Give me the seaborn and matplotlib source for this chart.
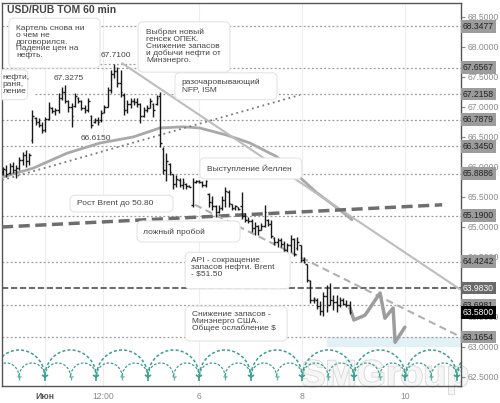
import numpy as np
import pandas as pd
import matplotlib
matplotlib.use('Agg')
import matplotlib.pyplot as plt
import matplotlib.transforms as mtransforms
import matplotlib.patheffects as pe
from matplotlib.patches import FancyBboxPatch, Rectangle
import seaborn as sns

# hourly bars USD/RUB TOM
opens = [65.92, 65.95, 65.90, 66.02, 65.95, 65.98, 66.12, 66.20, 66.10, 66.45,
         66.82, 66.75, 66.70, 66.62, 66.80, 66.98, 66.93, 66.95, 67.15, 67.25,
         67.10, 67.00, 67.02, 67.15, 67.10, 66.98, 66.95, 66.85, 66.75, 66.78,
         66.78, 66.92, 67.00, 67.28, 67.55, 67.60, 67.40, 67.20, 66.95, 67.05,
         67.10, 67.08, 67.05, 66.85, 66.95, 66.98, 67.05, 67.05, 67.18, 66.30,
         65.95, 66.05, 65.88, 65.72, 65.78, 65.70, 65.72, 65.68, 65.36, 65.75,
         65.76, 65.75, 65.70, 65.55, 65.42, 65.35, 65.25, 65.32, 65.45, 65.58,
         65.38, 65.32, 65.34, 65.35, 65.18, 65.12, 65.10, 64.98, 65.02, 64.95,
         65.02, 65.12, 65.05, 64.82, 64.75, 64.78, 64.72, 64.62, 64.70, 64.80,
         64.65, 64.70, 64.45, 64.38, 64.10, 63.78, 63.78, 63.68, 63.60, 63.85,
         63.70, 63.78, 63.75, 63.70, 63.78, 63.72, 63.70]
highs = [66.00, 66.03, 66.07, 66.08, 66.03, 66.17, 66.25, 66.28, 66.23, 66.95,
         66.83, 66.82, 66.75, 66.83, 67.08, 67.00, 66.98, 67.23, 67.33, 67.37,
         67.12, 67.07, 67.23, 67.17, 67.12, 67.03, 67.15, 66.87, 66.82, 66.83,
         66.95, 67.03, 67.33, 67.62, 67.71, 67.67, 67.62, 67.23, 67.12, 67.15,
         67.15, 67.15, 67.07, 67.00, 67.03, 67.15, 67.07, 67.20, 67.25, 66.34,
         66.23, 66.06, 65.89, 65.87, 65.81, 65.81, 65.73, 65.70, 65.81, 65.78,
         65.78, 65.76, 65.78, 65.56, 65.51, 65.37, 65.37, 65.51, 65.67, 65.62,
         65.39, 65.37, 65.34, 65.59, 65.23, 65.17, 65.14, 65.09, 65.03, 65.06,
         65.37, 65.14, 65.12, 64.84, 64.81, 64.81, 64.76, 64.73, 64.87, 64.81,
         64.84, 64.70, 64.50, 64.39, 64.12, 63.84, 63.81, 63.76, 63.92, 64.03,
         64.06, 63.87, 63.87, 63.84, 63.81, 63.78, 63.76]
lows = [65.87, 65.83, 65.88, 65.90, 65.82, 65.95, 66.03, 66.00, 66.03, 66.40,
        66.70, 66.67, 66.57, 66.58, 66.78, 66.90, 66.87, 66.90, 67.12, 67.07,
        66.92, 66.67, 67.00, 67.07, 66.95, 66.90, 66.92, 66.65, 66.73, 66.70,
        66.75, 66.90, 67.00, 67.23, 67.48, 67.33, 67.17, 66.87, 66.90, 66.98,
        67.03, 67.00, 66.73, 66.83, 66.92, 66.98, 66.83, 67.03, 66.34, 65.89,
        65.76, 65.87, 65.64, 65.67, 65.67, 65.64, 65.64, 65.66, 65.34, 65.73,
        65.73, 65.67, 65.67, 65.34, 65.28, 65.17, 65.23, 65.28, 65.34, 65.34,
        65.28, 65.28, 65.28, 65.13, 65.09, 65.06, 64.92, 64.87, 64.87, 64.95,
        65.00, 65.01, 64.81, 64.70, 64.67, 64.67, 64.59, 64.53, 64.59, 64.51,
        64.62, 64.42, 64.40, 64.09, 63.73, 63.73, 63.64, 63.53, 63.51, 63.59,
        63.70, 63.62, 63.59, 63.67, 63.70, 63.67, 63.55]
closes = [65.97, 65.88, 66.02, 65.95, 65.98, 66.12, 66.20, 66.10, 66.20, 66.85,
          66.75, 66.70, 66.62, 66.80, 67.00, 66.93, 66.95, 67.15, 67.25, 67.10,
          67.00, 66.85, 67.18, 67.10, 66.98, 66.95, 67.10, 66.70, 66.78, 66.75,
          66.90, 67.00, 67.28, 67.55, 67.60, 67.40, 67.25, 66.95, 67.05, 67.10,
          67.08, 67.05, 66.85, 66.95, 66.98, 67.10, 66.95, 67.15, 66.40, 65.95,
          66.10, 65.92, 65.72, 65.80, 65.70, 65.75, 65.68, 65.67, 65.75, 65.76,
          65.75, 65.70, 65.76, 65.42, 65.35, 65.25, 65.32, 65.45, 65.60, 65.40,
          65.32, 65.35, 65.30, 65.18, 65.12, 65.10, 64.98, 65.02, 64.95, 65.02,
          65.25, 65.05, 64.85, 64.75, 64.78, 64.72, 64.62, 64.70, 64.80, 64.55,
          64.75, 64.45, 64.42, 64.12, 63.78, 63.80, 63.68, 63.60, 63.85, 63.70,
          63.78, 63.75, 63.70, 63.78, 63.72, 63.70, 63.58]

# support / resistance levels and where each line starts (bar index)
levels = [68.3477, 67.6567, 67.2158, 66.7879, 66.3450, 65.8886, 65.1900,
          64.4242, 63.6981, 63.1654]
level_start = [-0.3, -0.3, 9.8, -0.3, -0.3, -0.3, -0.3, -0.3, -0.3, -0.3]
key_level = 63.9830

# moving average curve
ma_x = [-0.3, 9.2, 19.6, 29.7, 39.8, 48.0, 55.0, 60.2, 68.5, 75.5, 83.8, 96.0, 103.1, 106.7]
ma_y = [65.83, 65.98, 66.23, 66.40, 66.50, 66.65, 66.67, 66.65, 66.53, 66.40, 66.17, 65.57, 65.28, 65.12]

# trend lines (x0, x1), (y0, y1)
rising_x, rising_y = [-0.3, 90.8], [65.78, 67.20]
brent_x, brent_y = [-0.3, 134.3], [65.00, 65.37]
resist_x, resist_y = [36.4, 140.06], [67.73, 63.95]
support_x, support_y = [58.7, 138.8], [65.37, 63.20]

# forecast zigzag
fc_x = [106.1, 107.3, 110.7, 115.3, 116.8, 119.3, 119.9, 122.9]
fc_y = [63.65, 63.45, 63.53, 63.90, 63.48, 63.65, 63.08, 63.33]

# time axis
day_len = 15.75
first_day = 12.8
tick_pos = [12.8, 30.55, 60.05, 91.55, 123.05]
tick_labels = ['Июн', '12:00', '6', '8', '10']

sns.set_style('white')
plt.rcParams['font.family'] = ['Liberation Sans', 'DejaVu Sans']

XMAX = 140.06
fig = plt.figure(figsize=(5, 4.03), dpi=100)
ax = fig.add_axes([2 / 500, 17 / 403, 459 / 500, 383 / 403])
ax.set_facecolor('none')
ax.set_xlim(-0.3, XMAX)
ax.set_ylim(62.35, 68.733)

# watermark behind everything
fig.text(0.77, 0.066, 'SMGroup', fontsize=27, fontweight='bold', color='#f6f6f6',
         ha='center', va='center', zorder=-1,
         path_effects=[pe.withStroke(linewidth=1.3, foreground='#d9d9d9')])

# light vertical grid
for p in tick_pos:
    ax.axvline(p, color='#eeeeee', lw=0.8, zorder=0)

# levels
for v, s in zip(levels, level_start):
    ax.plot([s, XMAX], [v, v], color='#9a9a9a', lw=0.9, ls=(0, (1.5, 1.8)), zorder=1)
ax.plot([-0.3, XMAX], [key_level, key_level], color='#6e6e6e', lw=1.5, ls=(0, (3, 1.3)), zorder=1)
ax.plot([29.7, 41.0], [67.71, 67.71], color='#9a9a9a', lw=0.9, ls=(0, (1.5, 1.8)), zorder=1)

# target zone
ax.add_patch(Rectangle((99.1, 63.0), XMAX - 99.1, 63.1654 - 63.0, fc='#e2f1f5', ec='none', zorder=0))

# cycle arcs
t = np.linspace(0, np.pi, 80)
starts = first_day + day_len * np.arange(-1, 9)
for s in starts:
    ax.plot(s + day_len / 2 + day_len / 2 * np.cos(t), 62.5 + 0.45 * np.sin(t),
            color='#3a9f8f', lw=1.1, ls=(0, (2, 1.4)), zorder=2)
    for h in [0, 0.5]:
        c = s + day_len * (h + 0.25)
        ax.plot(c + day_len / 4 * np.cos(t), 62.5 + 0.233 * np.sin(t),
                color='#3a9f8f', lw=0.9, ls=(0, (2, 1.4)), zorder=2)
ax.plot(starts, [62.5] * len(starts), ls='none', marker='1', ms=6, mew=1.2, color='#3a9f8f', zorder=2)
ax.plot(starts + day_len / 2, [62.5] * len(starts), ls='none', marker='1', ms=4, mew=0.9, color='#5fb3a6', zorder=2)

# moving average and trend lines
sns.lineplot(data=pd.DataFrame({'x': ma_x, 'y': ma_y}), x='x', y='y', ax=ax, sort=False,
             color='#a9a9a9', lw=2, zorder=3)
ax.plot(resist_x, resist_y, color='#bdbdbd', lw=1.5, zorder=3)
ax.plot(rising_x, rising_y, color='#7a7a7a', lw=1.3, ls=(0, (1, 2)), zorder=3)
ax.plot(brent_x, brent_y, color='#6e6e6e', lw=2.5, ls=(0, (3.2, 1.6)), zorder=3)
ax.plot(support_x, support_y, color='#b0b0b0', lw=1.5, ls=(0, (3.5, 2.2)), zorder=3)
sns.lineplot(data=pd.DataFrame({'x': fc_x, 'y': fc_y}), x='x', y='y', ax=ax, sort=False,
             color='#9d9d9d', lw=2.5, zorder=4)

# OHLC bars
x = np.arange(len(highs))
ax.vlines(x, lows, highs, color='#1a1a1a', lw=1.0, zorder=6)
ax.hlines(opens, x - 0.5, x, color='#1a1a1a', lw=1.0, zorder=6)
ax.hlines(closes, x, x + 0.5, color='#1a1a1a', lw=1.0, zorder=6)


def note(x0, x1, ytop, ybot, text, tx, ty, va='top'):
    box = FancyBboxPatch((x0, ybot), x1 - x0, ytop - ybot,
                         boxstyle='round,pad=0,rounding_size=1.6', mutation_aspect=0.0545,
                         fc='white', ec='#e4e4e4', lw=0.8, zorder=7)
    ax.add_patch(box)
    ax.text(tx, ty, text, fontsize=6, color='#444444', ha='left', va=va,
            linespacing=0.98, zorder=8)


note(1.8, 29.7, 68.48, 67.65, 'Картель снова ни\nо чем не\nдоговорился.\nПадение цен на\nнефть.', 4.0, 68.37)
note(41.3, 69.4, 68.42, 67.58, 'Выбран новый\nгенсек ОПЕК.\nСнижение запасов\nи добычи нефти от\nМинэнерго.', 43.7, 68.31)
note(-4.0, 7.6, 67.62, 67.12, 'нефти,\nраня,\nление', -0.1, 67.55)
note(52.6, 83.8, 67.57, 67.12, 'разочаровывающий\nNFP, ISM', 54.7, 67.47)
note(60.2, 91.4, 66.15, 65.80, 'Выступление Йеллен', 62.4, 65.975, va='center')
note(20.5, 52.0, 65.53, 65.25, 'Рост Brent до 50.80', 22.6, 65.39, va='center')
note(41.0, 72.5, 65.10, 64.75, 'ложный пробой', 42.8, 64.92, va='center')
note(55.7, 87.8, 64.58, 63.97, 'API - сокращение\nзапасов нефти. Brent\n- $51.50', 57.5, 64.50)
note(55.7, 86.9, 63.68, 63.10, 'Снижение запасов -\nМинэнерго США.\nОбщее ослабление $', 57.8, 63.60)

ax.text(20.2, 67.467, '67.3275', fontsize=6, color='#444444', ha='center', va='center', zorder=8)
ax.text(34.6, 67.85, '67.7100', fontsize=6, color='#444444', ha='center', va='center', zorder=8)
ax.text(28.4, 66.483, '66.6150', fontsize=6, color='#444444', ha='center', va='center', zorder=8)
ax.text(1.2, 68.617, 'USD/RUB TOM 60 min', fontsize=7.5, fontweight='bold', color='#444444',
        ha='left', va='center', zorder=8)

# axes styling
for sp in ax.spines.values():
    sp.set_color('#555555')
    sp.set_linewidth(1)
ax.set_xlabel('')
ax.set_ylabel('')
ax.yaxis.tick_right()
yt = np.arange(62.5, 68.51, 0.5)
ax.set_yticks(yt)
# a tick label fully hidden under the key level box is left blank
ax.set_yticklabels(['' if abs(v - key_level) < 0.05 else f'{v:.4f}' for v in yt])
ax.tick_params(axis='y', length=3, color='#888888', labelsize=6.2, labelcolor='#8a8a8a', pad=1.5)
ax.set_xticks(tick_pos)
ax.set_xticklabels(tick_labels)
ax.tick_params(axis='x', length=0, labelsize=6.2, labelcolor='#8a8a8a', pad=4)
ax.get_xticklabels()[0].set_fontweight('bold')
ax.get_xticklabels()[0].set_color('#555555')

# price labels on the right scale
trans = mtransforms.blended_transform_factory(ax.transAxes, ax.transData)
for v in levels:
    ax.text(1.004, v, f'{v:.4f}', transform=trans, fontsize=6.2, color='#222222', ha='left', va='center',
            bbox=dict(boxstyle='square,pad=0.22', fc='#9c9c9c', ec='none'), clip_on=False, zorder=9)
ax.text(1.004, key_level, f'{key_level:.4f}', transform=trans, fontsize=6.2, color='white', ha='left',
        va='center', bbox=dict(boxstyle='square,pad=0.22', fc='#6a6a6a', ec='none'), clip_on=False, zorder=9)
ax.text(1.004, closes[-1], f'{closes[-1]:.4f}', transform=trans, fontsize=6.2, color='white', ha='left',
        va='center', bbox=dict(boxstyle='square,pad=0.22', fc='#000000', ec='none'), clip_on=False, zorder=10)

fig.savefig('out.png', dpi=100, facecolor='white')
